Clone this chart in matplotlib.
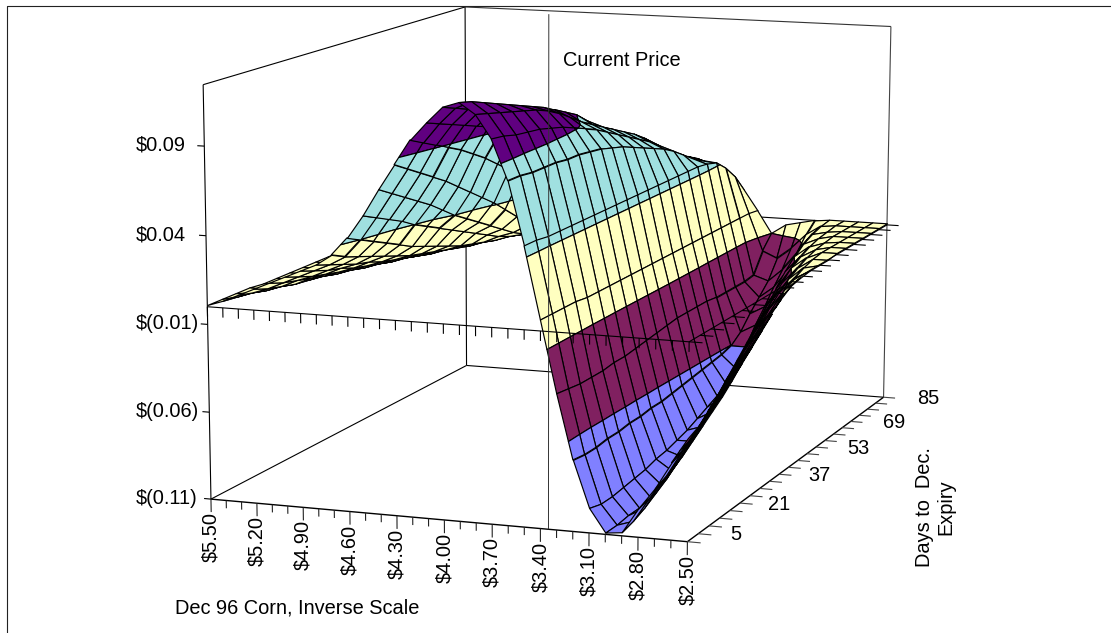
import numpy as np
import matplotlib
matplotlib.use("Agg")
import matplotlib.pyplot as plt
from matplotlib.lines import Line2D
from mpl_toolkits.mplot3d.art3d import Poly3DCollection

plt.rcParams["font.family"] = ["Liberation Sans", "DejaVu Sans"]

prices = [5.5, 5.4, 5.3, 5.2, 5.1, 5.0, 4.9, 4.8, 4.7, 4.6, 4.5, 4.4, 4.3, 4.2, 4.1, 4.0,
          3.9, 3.8, 3.7, 3.6, 3.5, 3.4, 3.3, 3.2, 3.1, 3.0, 2.9, 2.8, 2.7, 2.6, 2.5]
days = [1, 5, 9, 13, 17, 21, 25, 29, 33, 37, 41, 45, 49, 53, 57, 61, 65, 69, 73, 77, 81, 85]

# spread value in tenths of a cent, one line per price, one column per day
value_mils = [
    [1, 1, 1, 1, 0, 0, 0, 0, 0, 0, 0, 0, 0, 0, 0, 0, 0, 0, 0, 0, 0, 0],
    [4, 3, 2, 1, 1, 0, 0, 0, 0, 0, 0, 0, 0, 0, 0, 0, 0, 0, 0, 0, 0, 0],
    [8, 6, 4, 3, 2, 1, 1, 0, 0, 0, 0, 0, 0, 0, 0, 0, 0, 0, 0, 0, 0, 0],
    [12, 9, 7, 5, 4, 3, 2, 1, 1, 1, 0, 0, 0, 0, 0, 0, 0, 0, 0, 0, 0, 0],
    [16, 13, 11, 9, 7, 5, 4, 3, 2, 1, 1, 1, 0, 0, 0, 0, 0, 0, 0, 0, 0, 0],
    [20, 17, 14, 12, 10, 8, 6, 5, 3, 2, 2, 1, 1, 1, 0, 0, 0, 0, 0, 0, 0, 0],
    [24, 21, 18, 16, 13, 11, 9, 7, 6, 4, 3, 2, 2, 1, 1, 1, 0, 0, 0, 0, 0, 0],
    [28, 25, 22, 19, 17, 14, 12, 10, 8, 6, 5, 4, 3, 2, 2, 1, 1, 1, 0, 0, 0, 0],
    [34, 30, 27, 24, 21, 18, 15, 13, 11, 9, 7, 5, 4, 3, 2, 2, 1, 1, 1, 0, 0, 0],
    [44, 40, 36, 32, 28, 24, 21, 18, 15, 12, 10, 8, 6, 5, 4, 3, 2, 2, 1, 1, 1, 0],
    [57, 53, 49, 45, 40, 36, 32, 28, 24, 20, 16, 12, 9, 7, 6, 5, 4, 3, 2, 2, 1, 1],
    [72, 67, 62, 57, 52, 46, 40, 35, 30, 25, 20, 15, 11, 8, 6, 5, 5, 4, 3, 3, 2, 2],
    [86, 81, 76, 71, 66, 60, 54, 48, 42, 35, 28, 20, 14, 10, 7, 5, 4, 3, 3, 3, 3, 3],
    [100, 96, 92, 88, 84, 79, 74, 68, 62, 54, 45, 37, 28, 20, 14, 10, 7, 5, 4, 4, 4, 4],
    [110, 107, 104, 101, 98, 95, 90, 84, 77, 70, 62, 54, 45, 37, 29, 22, 16, 11, 8, 6, 5, 5],
    [119, 116, 113, 110, 107, 103, 99, 95, 90, 84, 77, 70, 63, 55, 46, 38, 30, 22, 15, 10, 7, 6],
    [122, 120, 117, 114, 111, 108, 105, 102, 98, 94, 90, 84, 78, 71, 63, 55, 46, 38, 30, 22, 15, 10],
    [116, 114, 112, 110, 108, 106, 103, 99, 94, 89, 85, 81, 77, 73, 69, 64, 58, 52, 46, 42, 38, 34],
    [103, 102, 100, 99, 98, 96, 94, 91, 88, 85, 81, 77, 73, 69, 65, 60, 54, 49, 45, 41, 36, 31],
    [81, 81, 80, 80, 80, 79, 79, 78, 77, 75, 73, 70, 67, 64, 61, 57, 52, 47, 43, 38, 32, 26],
    [46, 46, 45, 45, 45, 45, 45, 45, 45, 45, 45, 45, 45, 45, 45, 45, 45, 44, 42, 36, 28, 17],
    [6, 6, 6, 6, 5, 5, 5, 5, 5, 5, 5, 5, 5, 5, 5, 5, 5, 5, 5, 5, 5, 4],
    [-34, -35, -36, -36, -36, -35, -35, -34, -33, -32, -31, -30, -30, -30, -30, -31, -31, -31, -31, -30, -18, -10],
    [-70, -71, -71, -70, -70, -69, -69, -68, -68, -67, -66, -65, -64, -63, -62, -60, -55, -47, -40, -33, -22, -4],
    [-96, -98, -98, -97, -96, -95, -93, -92, -90, -88, -85, -82, -79, -76, -70, -60, -50, -42, -33, -25, -15, -2],
    [-109, -109, -108, -108, -106, -103, -99, -95, -90, -85, -80, -75, -69, -62, -55, -47, -38, -29, -21, -14, -6, 0],
    [-108, -106, -103, -99, -95, -90, -84, -78, -72, -66, -59, -52, -45, -38, -30, -23, -16, -10, -5, -2, 0, 1],
    [-94, -92, -88, -84, -79, -74, -69, -63, -57, -50, -43, -36, -29, -22, -16, -10, -6, -3, -1, 0, 1, 1],
    [-82, -79, -75, -70, -66, -60, -54, -48, -42, -35, -28, -21, -15, -10, -6, -3, -1, 0, 1, 1, 1, 1],
    [-67, -64, -60, -55, -50, -45, -39, -33, -27, -20, -14, -9, -5, -2, 0, 1, 1, 1, 1, 1, 1, 1],
    [-53, -50, -46, -41, -36, -30, -24, -18, -12, -7, -3, -1, 0, 0, 0, 1, 1, 1, 1, 1, 1, 1],
]

band_edges = [-0.11, -0.06, -0.01, 0.04, 0.09, 0.2]
band_colors = ["#8080FF", "#802060", "#FFFFC0", "#A0E0E0", "#600080"]
value_ticks = [-0.11, -0.06, -0.01, 0.04, 0.09]
value_labels = ["$(0.11)", "$(0.06)", "$(0.01)", "$0.04", "$0.09"]
price_labels = ["$5.50", "$5.20", "$4.90", "$4.60", "$4.30", "$4.00", "$3.70", "$3.40", "$3.10", "$2.80", "$2.50"]
day_labels = ["5", "21", "37", "53", "69", "85"]
current_price = 3.35
value_top = 0.124
current_top = 0.1715

# box corners as they sit on the page: price, day, value, pixel x, pixel y
corners = [
    (5.5, 1, -0.11, 210, 498), (2.5, 1, -0.11, 687, 541), (2.5, 85, -0.11, 884, 397),
    (5.5, 85, -0.11, 467, 365), (5.5, 1, value_top, 204, 84), (5.5, 85, value_top, 465, 7),
    (2.5, 85, value_top, 890, 25), (5.5, 1, 0, 207, 309), (2.5, 1, 0, 690, 342),
    (2.5, 85, 0, 887, 227),
]


def fit_camera(points):
    # direct linear transform, the box is not a plain elev/azim view
    norm = np.diag([1 / 1.5, 1 / 42, 10.0, 1.0])
    norm[0, 3] = -4 / 1.5
    norm[1, 3] = -43 / 42
    rows = []
    for p, d, z, px, py in points:
        X = norm @ [p, d, z, 1]
        rows.append(np.r_[X, 0, 0, 0, 0, -px * X])
        rows.append(np.r_[0, 0, 0, 0, X, -py * X])
    vt = np.linalg.svd(np.array(rows))[2]
    return vt[-1].reshape(3, 4) @ norm


def clip_band(poly, lo, hi):
    for limit, sign in ((lo, 1), (hi, -1)):
        out = []
        for i in range(len(poly)):
            a, b = poly[i], poly[(i + 1) % len(poly)]
            da, db = sign * (a[2] - limit), sign * (b[2] - limit)
            if da >= 0:
                out.append(a)
            if da * db < 0:
                out.append(a + (b - a) * da / (da - db))
        poly = out
        if not poly:
            break
    return poly


W, H = 1111, 633
fig = plt.figure(figsize=(W / 100, H / 100), dpi=100)
ax = fig.add_axes([0, 0, 1, 1], projection="3d")
ax.set_axis_off()
ax.set_proj_type("ortho")
ax.apply_aspect = lambda position=None: None
camera = fit_camera(corners)
flip = np.array([[1, 0, 0], [0, -1, H], [0, 0, 1.0]])


def page_proj():
    to_view = np.linalg.inv(ax.transData.get_affine().get_matrix()) @ flip @ camera
    depth = np.linalg.svd(to_view)[2][-1]
    return np.vstack([to_view[0], to_view[1], depth, to_view[2]])


ax.get_proj = page_proj


def page_xy(p, d, z):
    pt = camera @ [p, d, z, 1]
    return pt[0] / pt[2], pt[1] / pt[2]


def label(px, py, text, **kw):
    fig.text(px / W, 1 - py / H, text, fontsize=14.4, **kw)


def line(xs, ys, zs, z=0, lw=0.8, color="black"):
    ax.plot(xs, ys, zs, color=color, lw=lw, zorder=z, solid_capstyle="butt")


p0, p1, d0, d1, floor = prices[0], prices[-1], days[0], days[-1], value_ticks[0]

# walls and floor behind the surface
line([p0, p0], [d0, d0], [floor, value_top])
line([p0, p0], [d1, d1], [floor, value_top])
line([p1, p1], [d1, d1], [floor, value_top], color="#444444")
line([p0, p0], [d0, d1], [value_top, value_top])
line([p0, p1], [d1, d1], [value_top, value_top], color="#333333")
line([p0, p0], [d0, d1], [floor, floor])
line([p0, p1], [d1, d1], [floor, floor])
line([p0, p1], [d1, d1], [0, 0])
line([p0, p1], [d0, d0], [floor, floor], lw=1.0)
line([p1, p1], [d0, d1], [floor, floor], lw=1.0)

for i, p in enumerate(prices):
    line([p, p], [d0, d0], [floor, floor - (0.0075 if i % 3 == 0 else 0.0045)], color="#222222")
for d in days:
    line([p1, p1 - 0.08], [d, d], [floor, floor], color="#444444")
for v, text in zip(value_ticks, value_labels):
    line([p0, p0 + 0.045], [d0, d0], [v, v])
    py = page_xy(p0, d0, v)[1]
    label(136, py - 1, text, ha="left", va="center")
for p, text in zip(prices[::3], price_labels):
    px, py = page_xy(p, d0, floor)
    label(px, py + 13, text, rotation=90, ha="center", va="top")
for k, (d, text) in enumerate(zip(days[1::4], day_labels)):
    px, py = page_xy(p1, d, floor)
    label(px + 38 + 1.4 * k, py + 1, text, ha="center", va="center")

# surface, far rows first, each cell cut up along the value bands
values = np.array(value_mils) / 1000.0
order = 1
for j in range(len(days) - 2, -1, -1):
    for i in range(len(prices) - 1):
        cell = np.array([
            [prices[i], days[j], values[i, j]],
            [prices[i + 1], days[j], values[i + 1, j]],
            [prices[i + 1], days[j + 1], values[i + 1, j + 1]],
            [prices[i], days[j + 1], values[i, j + 1]],
        ])
        pieces, colors = [], []
        for b, color in enumerate(band_colors):
            piece = clip_band(list(cell), band_edges[b], band_edges[b + 1])
            if len(piece) >= 3:
                pieces.append(np.array(piece))
                colors.append(color)
        if pieces:
            ax.add_collection3d(Poly3DCollection(pieces, facecolors=colors, edgecolors="black",
                                                 linewidths=0.85, zorder=order))
        order += 1

# the zero plane outline and its ticks run over the surface
top = order + 1
line([p0, p1], [d0, d0], [0, 0], z=top)
line([p1, p1], [d0, d1], [0, 0], z=top)
for p in prices:
    line([p, p], [d0, d0], [0, -0.0055], z=top)
for d in days:
    line([p1, p1 - 0.08], [d, d], [0, 0], z=top)
line([current_price, current_price], [d0, d0], [floor, current_top], z=top, lw=0.7, color="#333333")

ax.computed_zorder = False

label(563, 60, "Current Price", va="center")
label(175, 608, "Dec 96 Corn, Inverse Scale", va="center")
label(935, 507, "Days to  Dec.\nExpiry", rotation=90, ha="center", va="center", multialignment="center")

fig.add_artist(Line2D([7 / W, 7 / W, 1], [0, 1 - 6 / H, 1 - 6 / H], color="#222222", lw=0.8))

fig.savefig("out.png", dpi=100)
